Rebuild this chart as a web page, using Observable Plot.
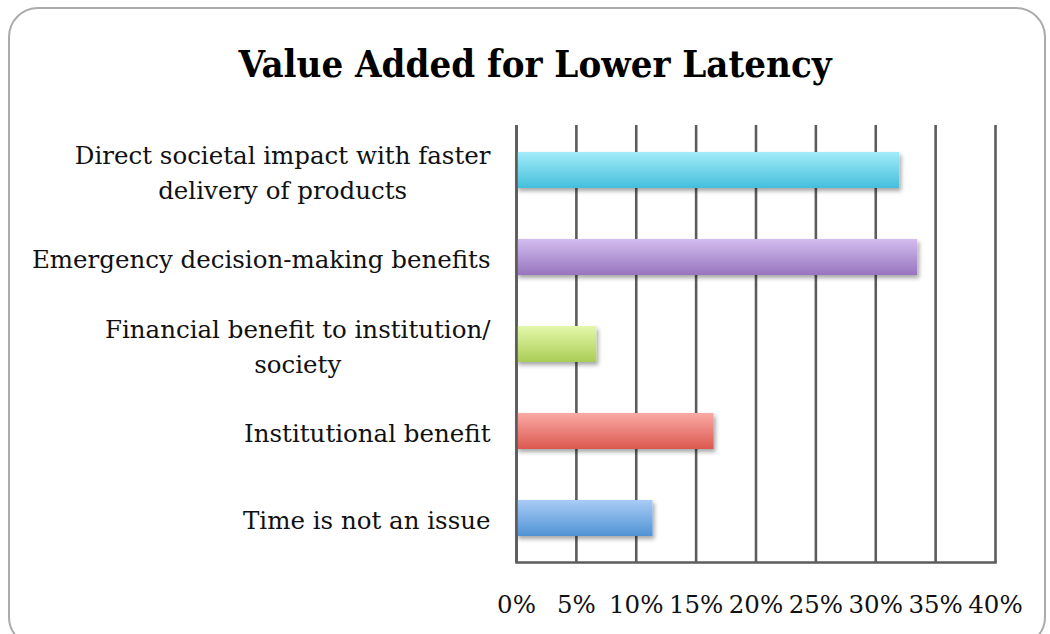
<!DOCTYPE html>
<html>
<head>
<meta charset="utf-8">
<script src="https://cdn.jsdelivr.net/npm/d3@7"></script>
<script src="https://cdn.jsdelivr.net/npm/@observablehq/plot@0.6"></script>
<style>
  body { margin: 0; background: #fff; width: 1050px; height: 634px; overflow: hidden; position: relative; }
  #box { position: absolute; left: 8px; top: 7px; width: 1038px; height: 640px; border: 2px solid #ababab; border-radius: 30px; box-sizing: border-box; }
  #title { position: absolute; left: 20px; top: 45px; width: 1030px; text-align: center;
    font-family: "DejaVu Serif Condensed", "DejaVu Serif", serif; font-stretch: condensed; font-weight: bold;
    font-size: 38px; line-height: 1; color: #000; }
  #chart { position: absolute; left: 0; top: 100px; }
</style>
</head>
<body>
<div id="box"></div>
<div id="title">Value Added for Lower Latency</div>
<div id="chart"></div>
<script>
const categories = [
  "Direct societal impact with faster\ndelivery of products",
  "Emergency decision-making benefits",
  "Financial benefit to institution/\nsociety",
  "Institutional benefit",
  "Time is not an issue"
];
const values = [32.0, 33.5, 6.7, 16.5, 11.4];
const xTicks = [0, 5, 10, 15, 20, 25, 30, 35, 40];
const xTickLabels = ["0%", "5%", "10%", "15%", "20%", "25%", "30%", "35%", "40%"];
const topColors = ["#a3ecf9", "#d3bdef", "#e4f8ab", "#fbaaa6", "#a9ccf7"];
const bottomColors = ["#44bfdc", "#9775bf", "#aacd55", "#db584f", "#5093d4"];

const data = categories.map((c, i) => ({category: c, value: values[i]}));
const gradIds = categories.map((c, i) => "grad" + i);

const chart = Plot.plot({
  width: 1050,
  height: 522,
  marginLeft: 516,
  marginRight: 55,
  marginTop: 25,
  marginBottom: 60,
  style: {fontFamily: "DejaVu Serif", color: "#111", background: "transparent", overflow: "visible"},
  x: {domain: [0, 40]},
  y: {domain: categories, paddingInner: 0.59, paddingOuter: 0.295},
  color: {type: "ordinal", domain: categories, range: gradIds.map(id => `url(#${id})`)},
  marks: [
    Plot.gridX(xTicks, {stroke: "#5c5c5c", strokeOpacity: 1, strokeWidth: 2.6}),
    Plot.frame({anchor: "bottom", stroke: "#5c5c5c", strokeWidth: 2.6}),
    Plot.barX(data, {x: "value", y: "category", fill: "category"}),
    Plot.ruleX([0], {stroke: "#5c5c5c", strokeWidth: 2.6}),
    Plot.axisX(xTicks, {tickSize: 0, tickPadding: 33, fontSize: 24.5, label: null,
      tickFormat: d => xTickLabels[xTicks.indexOf(d)]}),
    Plot.axisY({tickSize: 0, tickPadding: 26, fontSize: 24.5, lineHeight: 1.4, label: null})
  ]
});
document.getElementById("chart").appendChild(chart);

// gradients and shadow
const svg = d3.select(chart.tagName === "svg" ? chart : chart.querySelector("svg"));
const defs = svg.insert("defs", ":first-child");
gradIds.forEach((id, i) => {
  const g = defs.append("linearGradient").attr("id", id).attr("x1", 0).attr("y1", 0).attr("x2", 0).attr("y2", 1);
  g.append("stop").attr("offset", "0%").attr("stop-color", topColors[i]);
  g.append("stop").attr("offset", "100%").attr("stop-color", bottomColors[i]);
});
const f = defs.append("filter").attr("id", "shadow").attr("x", "-10%").attr("y", "-30%").attr("width", "130%").attr("height", "180%");
f.append("feDropShadow").attr("dx", 2).attr("dy", 3).attr("stdDeviation", 2.2)
  .attr("flood-color", "#000").attr("flood-opacity", 0.35);
svg.selectAll('g[aria-label="bar"]').attr("filter", "url(#shadow)");

// center multi-line y labels within their block (right-aligned block)
svg.selectAll('g[aria-label="y-axis tick label"] text').each(function() {
  const tspans = this.querySelectorAll("tspan");
  if (tspans.length > 1) {
    const w = Math.max(...Array.from(tspans, t => t.getComputedTextLength()));
    this.setAttribute("text-anchor", "middle");
    tspans.forEach(t => t.setAttribute("x", -w / 2));
  }
});
</script>
</body>
</html>
